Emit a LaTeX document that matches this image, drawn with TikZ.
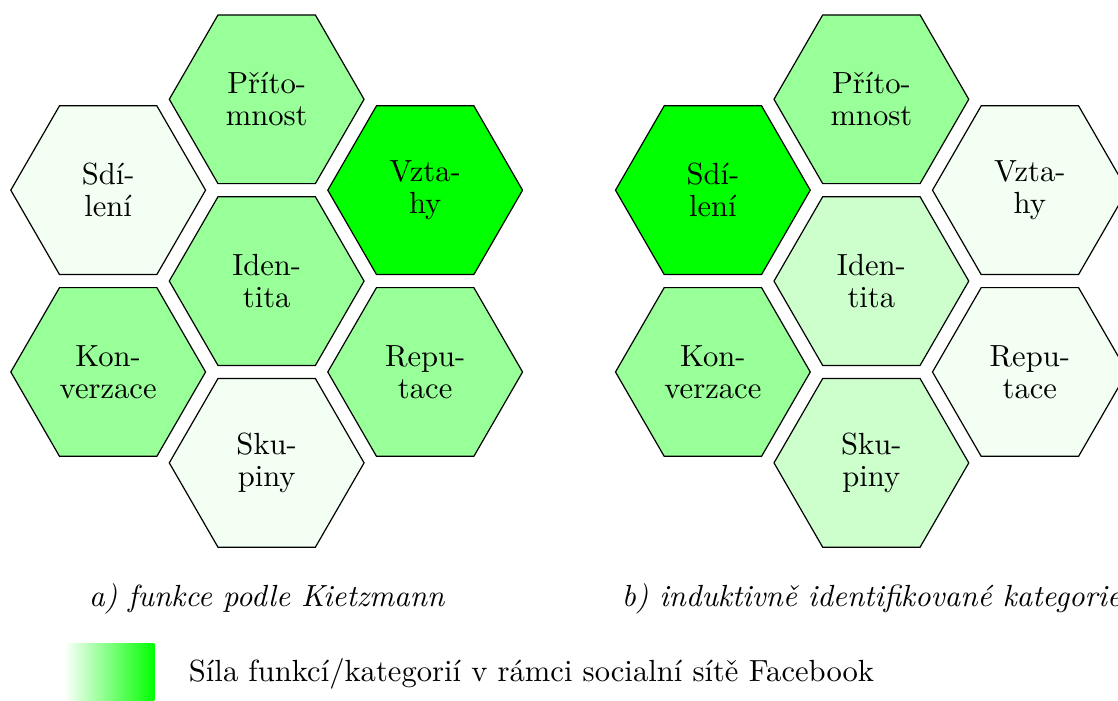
\documentclass[tikz,border=0pt]{standalone}
\usepackage{fontspec}
\usepackage{tikz}
\usetikzlibrary{shapes.geometric,positioning}

\begin{document}
\begin{tikzpicture}[on grid, node distance=2.13cm, thin,
  font=\fontsize{10.2pt}{12pt}\selectfont,
  hexa/.style={regular polygon, regular polygon sides=6, minimum size=2.282cm,
    inner sep=0pt, draw=black, text=black, align=center,
    font=\fontsize{10.2pt}{10.6pt}\selectfont},
  caption/.style={anchor=base, font=\fontsize{10.2pt}{12pt}\selectfont\itshape}]

  \useasboundingbox (-88.9pt,-139.7pt) rectangle (283.8pt,93.7pt);

  % a) Kietzmann
  \node[hexa, fill=green!40] (identA)                                    {Iden-\\tita};
  \node[hexa, fill=green!40] (pritA) [above=of identA]                   {Příto-\\mnost};
  \node[hexa, fill=green!5]  (sdilA) [above left=1.065cm and 1.857cm of identA]  {Sdí-\\lení};
  \node[hexa, fill=green]    (vztaA) [above right=1.065cm and 1.857cm of identA] {Vzta-\\hy};
  \node[hexa, fill=green!40] (konvA) [below left=1.065cm and 1.857cm of identA]  {Kon-\\verzace};
  \node[hexa, fill=green!40] (repuA) [below right=1.065cm and 1.857cm of identA] {Repu-\\tace};
  \node[hexa, fill=green!5]  (skupA) [below=of identA]                   {Sku-\\piny};

  % b) induktivne
  \node[hexa, fill=green!20] (identB) [right=7.085cm of identA]          {Iden-\\tita};
  \node[hexa, fill=green!40] (pritB) [above=of identB]                   {Příto-\\mnost};
  \node[hexa, fill=green]    (sdilB) [above left=1.065cm and 1.857cm of identB]  {Sdí-\\lení};
  \node[hexa, fill=green!5]  (vztaB) [above right=1.065cm and 1.857cm of identB] {Vzta-\\hy};
  \node[hexa, fill=green!40] (konvB) [below left=1.065cm and 1.857cm of identB]  {Kon-\\verzace};
  \node[hexa, fill=green!5]  (repuB) [below right=1.065cm and 1.857cm of identB] {Repu-\\tace};
  \node[hexa, fill=green!20] (skupB) [below=of identB]                   {Sku-\\piny};

  \node[caption] (capA) at (0,-108.6pt)      {a) funkce podle Kietzmann};
  \node[caption] (capB) at (201.6pt,-108.6pt) {b) induktivně identifikované kategorie};

  % legend
  \node[anchor=north west, inner sep=0pt, minimum width=30.2pt, minimum height=30.2pt,
        left color=white, right color=green] (grad) at (-67.8pt,-120.6pt) {};
  \node[anchor=base west, inner sep=0pt] (legtext) at (-26.1pt,-133.6pt)
        {Síla funkcí/kategorií v rámci socialní sítě Facebook};
\end{tikzpicture}
\end{document}
